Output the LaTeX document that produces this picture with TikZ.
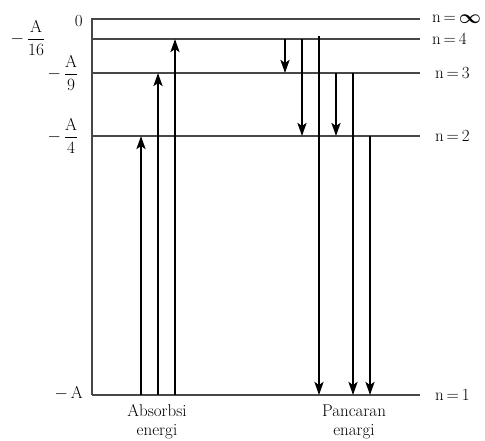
\documentclass[tikz,border=0pt]{standalone}
\usepackage{amsmath,amsbsy}
\usetikzlibrary{arrows.meta}
\begin{document}
\begin{tikzpicture}[x=1pt,y=-1pt,
  level/.style={line width=1.2pt, draw=black!72},
  trans/.style={line width=2.4pt, draw=black, -{Stealth[length=13pt,width=9pt,inset=3pt]}},
  lbl/.style={font=\fontsize{17}{20}\selectfont, inner sep=0pt}]
\useasboundingbox (0,0) rectangle (485,440);
% level end points
\coordinate (c0) at (92,19);
\coordinate (cb) at (92,395);
\coordinate (einf) at (420,19);
\coordinate (l4a) at (92,39);  \coordinate (l4b) at (420,39);
\coordinate (l3a) at (92,73);  \coordinate (l3b) at (420,73);
\coordinate (l2a) at (92,136); \coordinate (l2b) at (420,136);
\coordinate (l1b) at (420,395);
% levels
\draw[level] (cb) -- (c0) -- (einf);
\draw[level] (l4a) -- (l4b);
\draw[level] (l3a) -- (l3b);
\draw[level] (l2a) -- (l2b);
\draw[level] (cb) -- (l1b);
% right labels
\node[lbl, anchor=west] (ninf) at (432,19) {n\,=\,\raisebox{-0.5pt}{\scalebox{1.12}{$\boldsymbol{\infty}$}}};
\node[lbl, anchor=west] (n4) at (432,39) {n\,=\,4};
\node[lbl, anchor=west] (n3) at (435,73) {n\,=\,3};
\node[lbl, anchor=west] (n2) at (435,136) {n\,=\,2};
\node[lbl, anchor=west] (n1) at (435,395) {n\,=\,1};
% left labels
\node[lbl, anchor=east] (z) at (83,21) {0};
\node[lbl] (f16) at (28,38) {$-\,\dfrac{\mathrm{A}}{16}$};
\node[lbl] (f9) at (63,73) {$-\,\dfrac{\mathrm{A}}{9}$};
\node[lbl] (f4) at (63,136) {$-\,\dfrac{\mathrm{A}}{4}$};
\node[lbl, anchor=east] (fa) at (83,393) {$-\,\mathrm{A}$};
% absorption arrows
\coordinate (a1s) at (141,395); \coordinate (a1e) at (141,136);
\coordinate (a2s) at (158,395); \coordinate (a2e) at (158,73);
\coordinate (a3s) at (175,395); \coordinate (a3e) at (175,39);
\draw[trans] (a1s) -- (a1e);
\draw[trans] (a2s) -- (a2e);
\draw[trans] (a3s) -- (a3e);
% emission arrows
\coordinate (e1s) at (285,39);  \coordinate (e1e) at (285,73);
\coordinate (e2s) at (302,39);  \coordinate (e2e) at (302,136);
\coordinate (e3s) at (319,36);  \coordinate (e3e) at (319,395);
\coordinate (e4s) at (336,73);  \coordinate (e4e) at (336,136);
\coordinate (e5s) at (353,73);  \coordinate (e5e) at (353,395);
\coordinate (e6s) at (370,136); \coordinate (e6e) at (370,395);
\draw[trans] (e1s) -- (e1e);
\draw[trans] (e2s) -- (e2e);
\draw[trans] (e3s) -- (e3e);
\draw[trans] (e4s) -- (e4e);
\draw[trans] (e5s) -- (e5e);
\draw[trans] (e6s) -- (e6e);
% captions
\node[lbl, align=center, font=\fontsize{17}{19}\selectfont] (abs) at (157,422) {Absorbsi\\energi};
\node[lbl, align=center, font=\fontsize{17}{19}\selectfont] (pan) at (354,422) {Pancaran\\enargi};
\end{tikzpicture}
\end{document}
